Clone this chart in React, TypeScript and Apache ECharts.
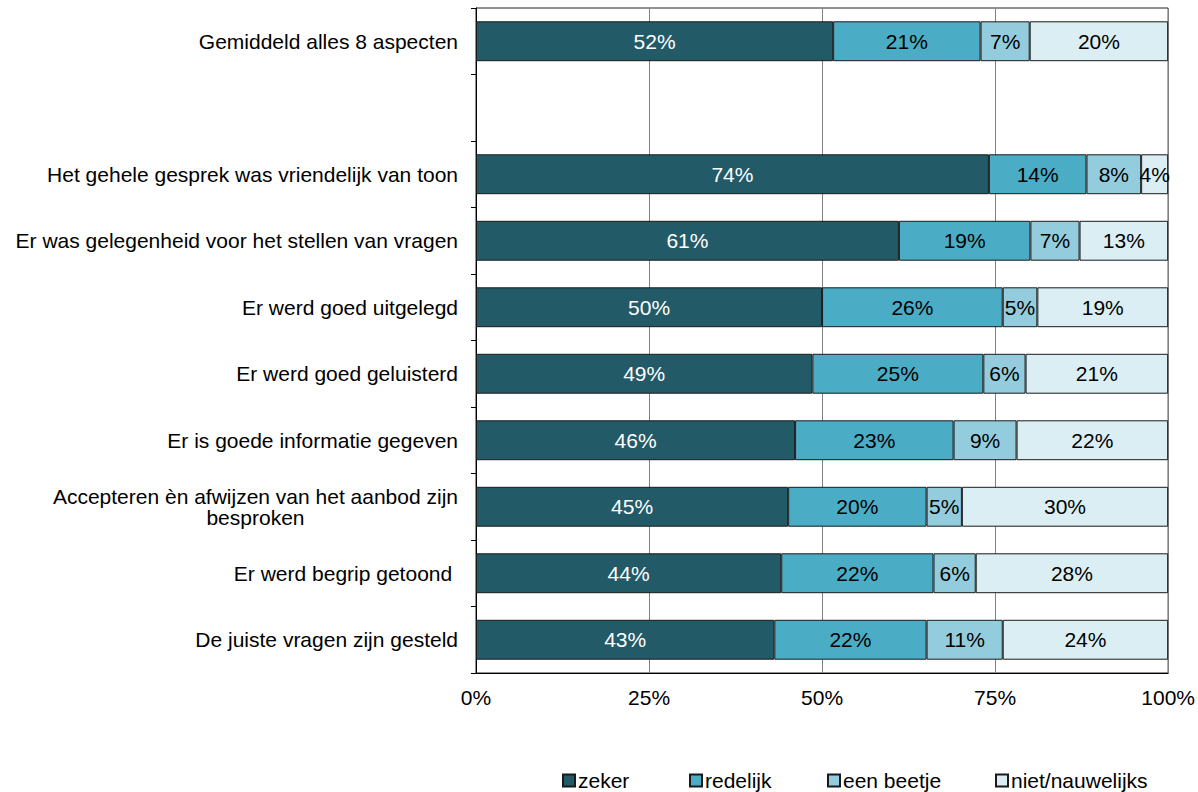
import React, { useEffect, useRef } from "react";
import * as echarts from "echarts";

const categories = [
  "Gemiddeld alles 8 aspecten",
  "",
  "Het gehele gesprek was vriendelijk van toon",
  "Er was gelegenheid voor het stellen van vragen",
  "Er werd goed uitgelegd",
  "Er werd goed geluisterd",
  "Er is goede informatie gegeven",
  "Accepteren èn afwijzen van het aanbod zijn besproken",
  "Er werd begrip getoond ",
  "De juiste vragen zijn gesteld",
];

const seriesNames = ["zeker", "redelijk", "een beetje", "niet/nauwelijks"];
const zeker = [51.6, "-", 74.1, 61.1, 50.0, 48.6, 46.1, 45.1, 44.1, 43.1];
const redelijk = [21.3, "-", 14.1, 19.0, 26.1, 24.7, 22.9, 20.0, 22.0, 22.0];
const eenBeetje = [7.1, "-", 7.9, 7.1, 5.0, 6.1, 9.1, 5.1, 6.1, 11.0];
const nietNauwelijks = [20.0, "-", 3.9, 12.8, 18.9, 20.6, 21.9, 29.8, 27.8, 23.9];
const xTicks = [0, 25, 50, 75, 100];

const colors = ["#235a68", "#4bacc6", "#93cddd", "#dbeef4"];
const labelColors = ["#ffffff", "#000000", "#000000", "#000000"];
const legendLeft = [562, 689, 827, 995];

const FONT = "'Liberation Sans', Arial, sans-serif";
const FS = 21;

export default function App() {
  const ref = useRef<HTMLDivElement>(null);

  useEffect(() => {
    document.body.style.margin = "0";
    if (!ref.current) return;
    const chart = echarts.init(ref.current, undefined, { renderer: "svg" });
    const values = [zeker, redelijk, eenBeetje, nietNauwelijks];

    const series = seriesNames.map((name, i) => ({
      name,
      type: "bar",
      stack: "total",
      data: values[i],
      barCategoryGap: "40%",
      itemStyle: { color: colors[i], borderColor: "#1a1a1a", borderWidth: 1 },
      label: {
        show: true,
        position: "inside",
        color: labelColors[i],
        fontSize: FS,
        fontFamily: FONT,
        formatter: (p: any) => Math.round(p.value) + "%",
      },
      emphasis: { disabled: true },
    }));

    const legends = seriesNames.map((name, i) => ({
      data: [name],
      left: legendLeft[i],
      top: 770,
      padding: 0,
      icon: "rect",
      itemWidth: 12,
      itemHeight: 12,
      itemGap: 0,
      selectedMode: false,
      textStyle: { fontSize: FS, fontFamily: FONT, color: "#000", padding: [0, 0, 0, -2] },
    }));

    chart.setOption({
      animation: false,
      textStyle: { fontFamily: FONT },
      legend: legends,
      grid: {
        left: 476,
        right: 27,
        top: 8,
        bottom: 119,
        show: true,
        borderColor: "#222",
        borderWidth: 1,
      },
      xAxis: {
        type: "value",
        min: xTicks[0],
        max: xTicks[xTicks.length - 1],
        interval: 25,
        axisLine: { show: true, lineStyle: { color: "#000", width: 1 } },
        axisTick: { show: false },
        axisLabel: {
          fontSize: FS,
          fontFamily: FONT,
          color: "#000",
          margin: 14,
          formatter: (v: number) => v + "%",
        },
        splitLine: { show: true, lineStyle: { color: "#808080", width: 1 } },
      },
      yAxis: {
        type: "category",
        inverse: true,
        data: categories,
        axisLine: { show: true, lineStyle: { color: "#000", width: 1 } },
        axisTick: { show: true, length: 5, lineStyle: { color: "#000" } },
        axisLabel: {
          fontSize: FS,
          fontFamily: FONT,
          color: "#000",
          margin: 18,
          lineHeight: 21,
          formatter: (v: string) => {
            if (v.startsWith("Accepteren")) {
              return "{a|Accepteren èn afwijzen van het aanbod zijn}\n{b|besproken}";
            }
            return v;
          },
          rich: {
            a: { fontSize: FS, fontFamily: FONT, color: "#000", lineHeight: 21 },
            b: {
              fontSize: FS,
              fontFamily: FONT,
              color: "#000",
              lineHeight: 21,
              width: 400,
              align: "center",
            },
          },
        },
      },
      series,
    });

    return () => chart.dispose();
  }, []);

  return <div ref={ref} style={{ width: 1198, height: 792 }} />;
}
